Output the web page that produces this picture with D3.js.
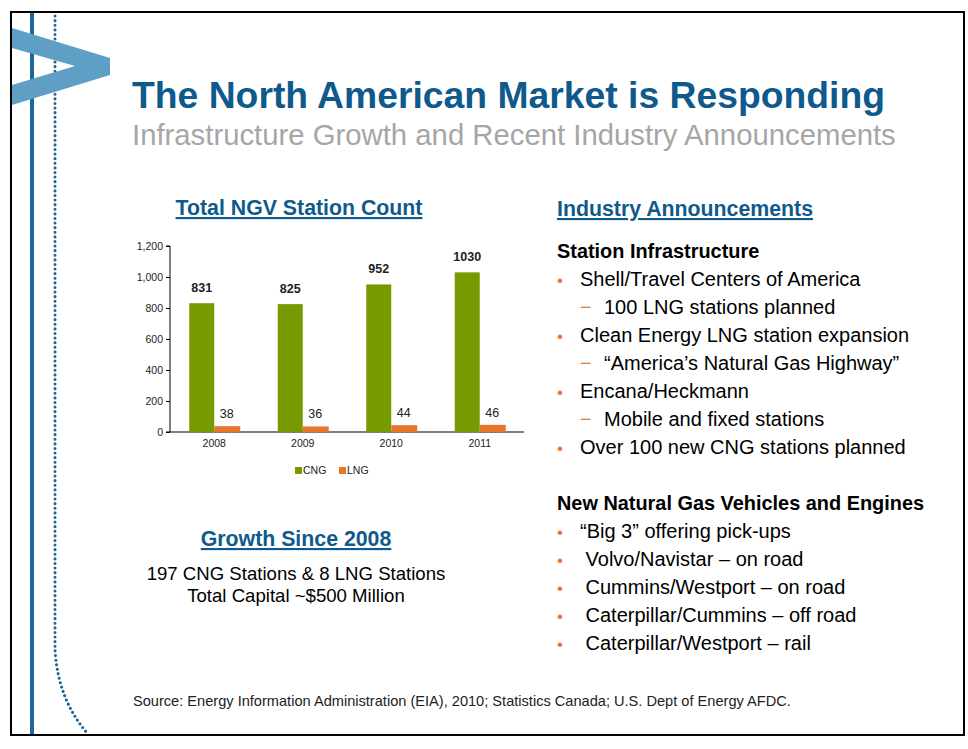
<!DOCTYPE html><html><head><meta charset="utf-8"><script src="https://cdn.jsdelivr.net/npm/d3@7"></script>
<style>body{margin:0;background:#fff}svg{font-family:Arial,"Liberation Sans",sans-serif}</style></head><body><svg id="c" width="968" height="749"></svg>
<script>
const years=["2008","2009","2010","2011"];
const cng=[831,825,952,1030];
const lng=[38,36,44,46];
const yTicks=[0,200,400,600,800,1000,1200];
const stationItems=[["b","Shell/Travel Centers of America"],["s","100 LNG stations planned"],["b","Clean Energy LNG station expansion"],["s","“America’s Natural Gas Highway”"],["b","Encana/Heckmann"],["s","Mobile and fixed stations"],["b","Over 100 new CNG stations planned"]];
const vehicleItems=["“Big 3” offering pick-ups"," Volvo/Navistar – on road"," Cummins/Westport – on road"," Caterpillar/Cummins – off road"," Caterpillar/Westport – rail"];
const svg=d3.select("#c");
svg.append("rect").attr("x",11).attr("y",12).attr("width",953).attr("height",723).attr("fill","none").attr("stroke","#000").attr("stroke-width",2);
svg.append("line").attr("x1",32).attr("x2",32).attr("y1",13).attr("y2",734).attr("stroke","#1f6596").attr("stroke-width",4);
svg.append("path").attr("d","M55,16 L55,650 Q58,700 88,734").attr("fill","none").attr("stroke","#1f6596").attr("stroke-width",3).attr("stroke-dasharray","0.1,4.5").attr("stroke-linecap","round");
svg.append("path").attr("d","M12,28 L110,58 L110,75 L12,105 L12,85 L75,66 L12,48 Z").attr("fill","#5f9fc6");
svg.append("text").attr("x",132).attr("y",108).attr("font-size",37.3).attr("font-weight","bold").attr("fill","#0f5a8c").text("The North American Market is Responding");
svg.append("text").attr("x",132).attr("y",145).attr("font-size",29.3).attr("fill","#a6a6a6").text("Infrastructure Growth and Recent Industry Announcements");
function ul(x,y,t,anchor){svg.append("text").attr("x",x).attr("y",y).attr("font-size",21.3).attr("font-weight","bold").attr("fill","#0f5a8c").attr("text-anchor",anchor).attr("text-decoration","underline").text(t);}
ul(299,215,"Total NGV Station Count","middle");
ul(557,216,"Industry Announcements","start");
ul(296,546,"Growth Since 2008","middle");
const x=d3.scaleBand().domain(years).range([170,524]);
const y=d3.scaleLinear().domain([0,1200]).range([432,246]);
const g=svg.append("g");
g.append("g").attr("transform","translate(170,0)").call(d3.axisLeft(y).tickValues(yTicks).tickFormat(d3.format(",")).tickSize(4)).call(a=>{a.selectAll("text").attr("font-size",10.5).attr("fill","#222");a.select(".domain").attr("d","M-4,246H0V432H-4");});
g.append("g").attr("transform","translate(0,432)").call(d3.axisBottom(x).tickSize(0).tickPadding(8)).call(a=>{a.selectAll("text").attr("font-size",10.5).attr("fill","#222");a.select(".domain").attr("d","M170,0H524");});
const bw=25;
years.forEach((yr,i)=>{const c=x(yr)+x.bandwidth()/2;
g.append("rect").attr("x",c-bw).attr("y",y(cng[i])).attr("width",bw).attr("height",432-y(cng[i])).attr("fill","#779a00");
g.append("rect").attr("x",c).attr("y",y(lng[i])).attr("width",bw+1).attr("height",432-y(lng[i])).attr("fill","#e8772e");
g.append("text").attr("x",c-bw/2).attr("y",y(cng[i])-11).attr("text-anchor","middle").attr("font-size",12.5).attr("font-weight","bold").attr("fill","#222").text(cng[i]);
g.append("text").attr("x",c+bw/2).attr("y",y(lng[i])-8).attr("text-anchor","middle").attr("font-size",12.5).attr("fill","#222").text(lng[i]);});
svg.append("rect").attr("x",295).attr("y",467).attr("width",7).attr("height",7).attr("fill","#779a00");
svg.append("text").attr("x",303).attr("y",474).attr("font-size",10.5).attr("fill","#222").text("CNG");
svg.append("rect").attr("x",339).attr("y",467).attr("width",7).attr("height",7).attr("fill","#e8772e");
svg.append("text").attr("x",347).attr("y",474).attr("font-size",10.5).attr("fill","#222").text("LNG");
svg.append("text").attr("x",296).attr("y",580).attr("text-anchor","middle").attr("font-size",18.6).attr("fill","#000").text("197 CNG Stations & 8 LNG Stations");
svg.append("text").attr("x",296).attr("y",602).attr("text-anchor","middle").attr("font-size",18.6).attr("fill","#000").text("Total Capital ~$500 Million");
svg.append("text").attr("x",557).attr("y",258).attr("font-size",19.9).attr("font-weight","bold").text("Station Infrastructure");
stationItems.forEach((d,i)=>{const yy=286+i*28;
if(d[0]=="b"){svg.append("text").attr("x",557).attr("y",yy).attr("font-size",17).attr("fill","#e8772e").text("•");svg.append("text").attr("x",580).attr("y",yy).attr("font-size",20).text(d[1]);}
else{svg.append("text").attr("x",580).attr("y",yy).attr("font-size",20).attr("fill","#e8772e").text("−");svg.append("text").attr("x",604).attr("y",yy).attr("font-size",20).text(d[1]);}});
svg.append("text").attr("x",557).attr("y",510).attr("font-size",19.9).attr("font-weight","bold").text("New Natural Gas Vehicles and Engines");
vehicleItems.forEach((d,i)=>{const yy=538+i*28;
svg.append("text").attr("x",557).attr("y",yy).attr("font-size",17).attr("fill","#e8772e").text("•");
svg.append("text").attr("x",580).attr("y",yy).attr("font-size",20).style("white-space","pre").text(d);});
svg.append("text").attr("x",133).attr("y",706).attr("font-size",14.6).attr("fill","#222").text("Source: Energy Information Administration (EIA), 2010; Statistics Canada; U.S. Dept of Energy AFDC.");
</script></body></html>
